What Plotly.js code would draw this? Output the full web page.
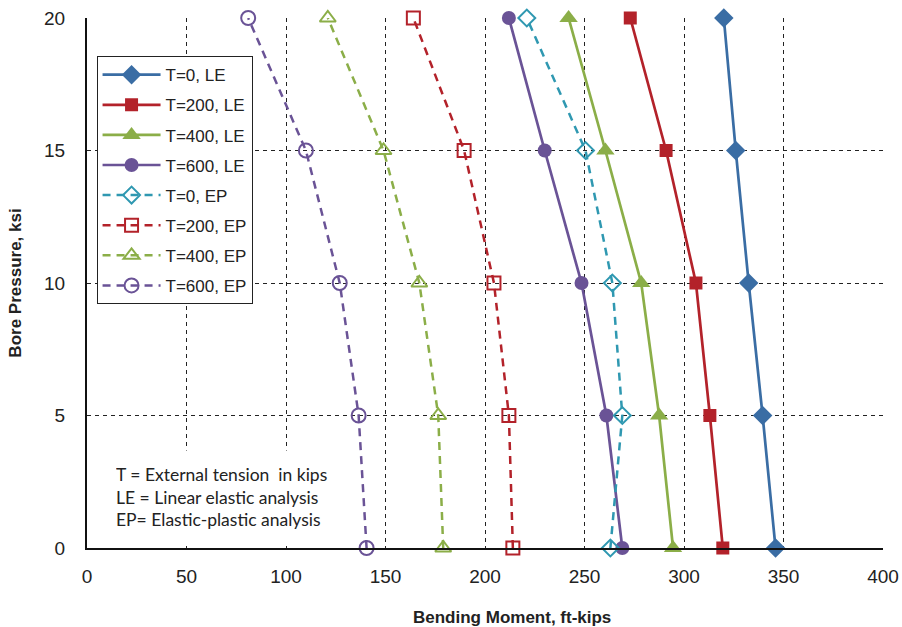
<!DOCTYPE html>
<html>
<head>
<meta charset="utf-8">
<script src="https://cdn.plot.ly/plotly-3.0.1.min.js"></script>
<style>html,body{margin:0;padding:0;background:#fff;}#chart{width:902px;height:627px;}</style>
</head>
<body>
<div id="chart"></div>
<script>
// Bore pressure levels (ksi)
const pressure = [0, 5, 10, 15, 20];

// Bending moment (ft-kips) — Linear elastic analysis
const le_T0   = [346, 339.5, 332.5, 326, 320];
const le_T200 = [319.5, 313, 306, 291, 273];
const le_T400 = [294.5, 287.5, 278.5, 260.5, 242];
const le_T600 = [269, 261, 248.5, 230, 212];

// Bending moment (ft-kips) — Elastic-plastic analysis
const ep_T0   = [263, 269, 264, 250.5, 221];
const ep_T200 = [214, 212, 204.5, 189.5, 164];
const ep_T400 = [179, 176.5, 167, 149, 121];
const ep_T600 = [140.5, 136.5, 127, 110, 81];

const names = ["T=0, LE","T=200, LE","T=400, LE","T=600, LE","T=0, EP","T=200, EP","T=400, EP","T=600, EP"];
const xTicks = [0,50,100,150,200,250,300,350,400];
const yTicks = [0,5,10,15,20];

const colors = {blue:'#3A6DA4', red:'#B3222A', green:'#8BAE48', purple:'#6A5396', teal:'#2F98B1'};

function tr(x, name, color, symbol, size, dash, lw, mline){
  return {
    x: x, y: pressure, name: name, type: 'scatter', mode: 'lines+markers',
    legendgroup: name, cliponaxis: false,
    line: {color: color, width: lw, dash: dash},
    marker: {symbol: symbol, size: size, color: color, line: {color: color, width: mline}}
  };
}

const data = [
  tr(le_T0,   names[0], colors.blue,   'diamond',     15, 'solid', 2.7, 0),
  tr(le_T200, names[1], colors.red,    'square',      13, 'solid', 2.7, 0),
  tr(le_T400, names[2], colors.green,  'triangle-up', 16, 'solid', 2.7, 0),
  tr(le_T600, names[3], colors.purple, 'circle',      14, 'solid', 2.7, 0),
  tr(ep_T0,   names[4], colors.teal,   'diamond-open',     13, '8px,6px', 2.5, 2),
  tr(ep_T200, names[5], colors.red,    'square-open',      13, '8px,6px', 2.5, 2),
  tr(ep_T400, names[6], colors.green,  'triangle-up-open', 14, '8px,6px', 2.5, 2),
  tr(ep_T600, names[7], colors.purple, 'circle-open',      14, '8px,6px', 2.5, 2)
];

const layout = {
  width: 902, height: 627,
  margin: {l: 87, r: 19, t: 18, b: 79},
  paper_bgcolor: '#fff', plot_bgcolor: '#fff',
  font: {family: 'Liberation Sans, Arial, sans-serif', color: '#222', size: 19},
  showlegend: true,
  legend: {
    x: 0.012, y: 0.928, xanchor: 'left', yanchor: 'top',
    bordercolor: '#222', borderwidth: 1, bgcolor: '#fff',
    font: {size: 17, color: '#222'},
    itemwidth: 58, tracegroupgap: 5
  },
  xaxis: {
    range: [0, 400], tickvals: xTicks, ticktext: xTicks.map(String),
    showgrid: true, gridcolor: '#222', griddash: '4px,4px', gridwidth: 1,
    showline: true, linecolor: '#111', linewidth: 2, mirror: false,
    zeroline: false, ticks: '', ticklabelstandoff: 10
  },
  yaxis: {
    range: [0, 20], tickvals: yTicks, ticktext: yTicks.map(String),
    showgrid: true, gridcolor: '#222', griddash: '4px,4px', gridwidth: 1,
    showline: true, linecolor: '#111', linewidth: 2,
    zeroline: false, ticks: '', ticklabelstandoff: 16,
    title: {text: '<b>Bore Pressure, ksi</b>', font: {size: 17, color: '#222'}, standoff: 18}
  },
  annotations: [{
    xref: 'paper', yref: 'paper', x: 0.035, y: 0.185, xanchor: 'left', yanchor: 'top',
    align: 'left', valign: 'middle', showarrow: false,
    bgcolor: '#fff', width: 230, height: 92, borderpad: 0,
    text: 'T = External tension  in kips<br>LE = Linear elastic analysis<br>EP= Elastic-plastic analysis',
    font: {family: 'Lato, Open Sans, sans-serif', size: 17.5, color: '#222'}
  }, {
    xref: 'paper', yref: 'paper', x: (512 - 87) / (883 - 87), y: 0, yshift: -69,
    xanchor: 'center', yanchor: 'middle', showarrow: false,
    text: '<b>Bending Moment, ft-kips</b>',
    font: {size: 17, color: '#222'}
  }]
};

Plotly.newPlot('chart', data, layout, {displayModeBar: false, staticPlot: true});
</script>
</body>
</html>
